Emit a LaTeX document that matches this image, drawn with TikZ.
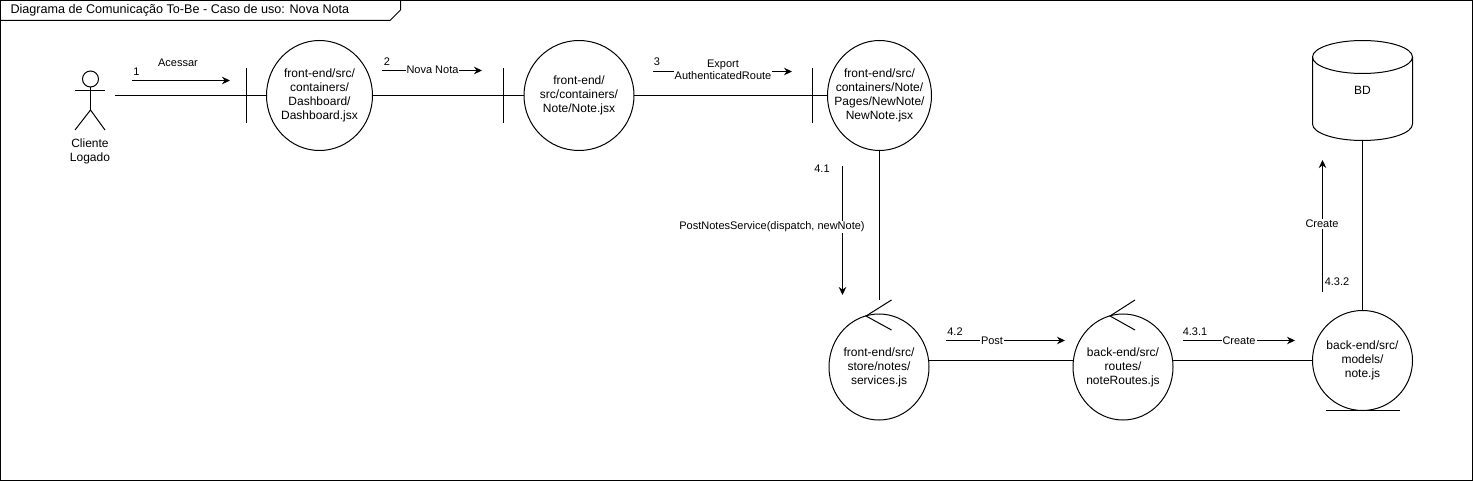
\documentclass[tikz,border=0pt]{standalone}
\usepackage{fontspec}
\setmainfont{Liberation Sans}
\usetikzlibrary{arrows.meta,shapes.geometric}

\tikzset{
  obj/.style = {draw, ellipse, minimum width=100pt, minimum height=106pt, inner sep=-14pt, outer sep=0pt, align=center, font=\fontsize{12}{14}\selectfont},
  msg/.style = {font=\fontsize{11}{12.5}\selectfont, align=center, inner sep=1pt},
  txt/.style = {msg, fill=white},
  flow/.style = {-{Stealth[length=8pt,width=7.5pt]}}
}

\begin{document}
\begin{tikzpicture}[x=1pt, y=-1pt, line width=1pt]
\useasboundingbox (0,0) rectangle (1473,481);
\draw (.5,.5) rectangle (1472.5,480.5);

% title
\draw (.5,20.5) -- (390,20.5) -- (400.5,10) -- (400.5,.5);
\node[anchor=west, inner sep=0pt, font=\fontsize{12.6}{14}\selectfont] (title) at (10,10.5) {Diagrama de Comunicação To-Be - Caso de uso: Nova Nota};

% actor
\draw (90.5,79) circle (8);
\draw (90.5,87) -- (90.5,110);
\draw (75,90.5) -- (105,90.5);
\draw (75,130) -- (90.5,110) -- (105,130);
\node[msg, font=\fontsize{12}{14}\selectfont] (cliente) at (90,151) {Cliente\\Logado};
\coordinate (actor) at (115,95.5);

% objects
\node[obj, minimum width=106pt, minimum height=110pt] (dash) at (319.5,95.5) {front-end/src/\\containers/\\Dashboard/\\Dashboard.jsx};
\node[obj, minimum width=110pt, minimum height=110pt] (note) at (579,95.5) {front-end/\\src/containers/\\Note/Note.jsx};
\node[obj, minimum width=104pt, minimum height=110pt] (newnote) at (879.5,95.5) {front-end/src/\\containers/Note/\\Pages/NewNote/\\NewNote.jsx};
\node[obj] (services) at (879,367) {front-end/src/\\store/notes/\\services.js};
\node[obj] (routes) at (1123,367) {back-end/src/\\routes/\\noteRoutes.js};
\node[obj, minimum height=100pt] (model) at (1362.5,360.5) {back-end/src/\\models/\\note.js};
\node[minimum width=100pt, minimum height=100pt, inner sep=0pt, outer sep=0pt, font=\fontsize{12}{14}\selectfont] (bd) at (1362.5,90.5) {BD};

% database
\draw (bd.north |- 0,57) ellipse (50 and 16.5);
\draw (1312.5,57) -- (1312.5,124) arc (180:0:50 and 16.5) -- (1412.5,57);

% boundary bars
\coordinate (bar1) at (246.5,95.5);
\coordinate (bar2) at (503.5,95.5);
\coordinate (bar3) at (812.5,95.5);
\draw (246.5,68) -- (246.5,123);
\draw (503.5,68) -- (503.5,123);
\draw (812.5,68) -- (812.5,123);

% control heads
\draw (891.5,300) -- (866,316) -- (891.5,330);
\draw (1135,300) -- (1110,316) -- (1135,330);
\coordinate (ctrl) at (879.5,300);

% underline entity
\draw (1325.5,410.5) -- (1400,410.5);

% links
\draw (actor) -- (bar1) -- (dash);
\draw (dash) -- (bar2) -- (note);
\draw (note) -- (bar3) -- (newnote);
\draw (newnote) -- (ctrl);
\draw (services.east |- 0,360.5) -- (routes.west |- 0,360.5);
\draw (routes.east |- 0,360.5) -- (model.west |- 0,360.5);
\draw (model.north) -- (bd.south);

% messages
\coordinate (m1a) at (132,80.5); \coordinate (m1b) at (230,80.5);
\draw[flow] (m1a) -- (m1b);
\node[msg] (n1) at (136.5,72) {1};
\node[msg] (acessar) at (178,63) {Acessar};

\coordinate (m2a) at (382,70.5); \coordinate (m2b) at (482,70.5);
\draw[flow] (m2a) -- (m2b);
\node[msg] (n2) at (387,62) {2};
\node[txt] (novanota) at (432.5,70) {Nova Nota};

\coordinate (m3a) at (653,71.5); \coordinate (m3b) at (792,71.5);
\draw[flow] (m3a) -- (m3b);
\node[msg] (n3) at (657,62) {3};
\node[txt] (export) at (723,70) {Export\\AuthenticatedRoute};

\coordinate (m41a) at (842.5,166); \coordinate (m41b) at (842.5,295);
\draw[flow] (m41a) -- (m41b);
\node[msg] (n41) at (822,169) {4.1};
\node[txt] (post1) at (772,227) {PostNotesService(dispatch, newNote)};

\coordinate (m42a) at (946,340.5); \coordinate (m42b) at (1065,340.5);
\draw[flow] (m42a) -- (m42b);
\node[msg] (n42) at (955,332) {4.2};
\node[txt] (post2) at (992,341) {Post};

\coordinate (m431a) at (1183,340.5); \coordinate (m431b) at (1295,340.5);
\draw[flow] (m431a) -- (m431b);
\node[msg] (n431) at (1195,332) {4.3.1};
\node[txt] (create1) at (1239,341) {Create};

\coordinate (m432a) at (1322.5,292); \coordinate (m432b) at (1322.5,160);
\draw[flow] (m432a) -- (m432b);
\node[msg] (n432) at (1337,282) {4.3.2};
\node[txt] (create2) at (1322,224) {Create};
\end{tikzpicture}
\end{document}
